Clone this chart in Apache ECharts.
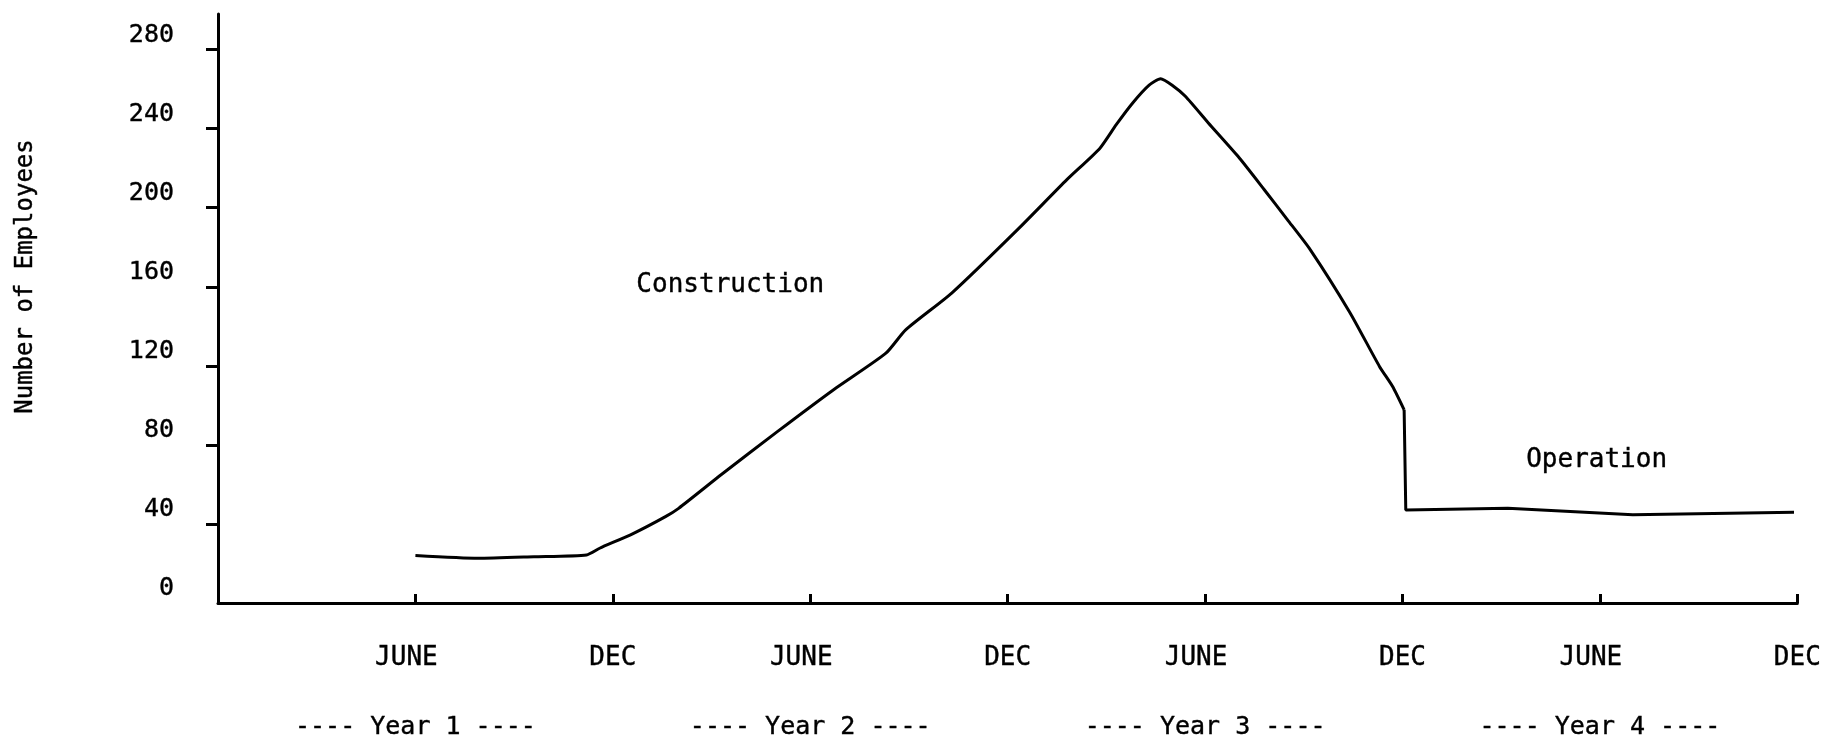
<!DOCTYPE html>
<html>
<head>
<meta charset="utf-8">
<script src="https://cdn.jsdelivr.net/npm/echarts@6/dist/echarts.min.js"></script>
<style>
  html, body { margin: 0; padding: 0; background: #fff; }
  #main { width: 1824px; height: 741px; }
</style>
</head>
<body>
<div id="main"></div>
<script>
// months since start of Year 1, and number of employees
var constructionMonths = [6, 7.9, 9.6, 11.2, 11.6, 12.6, 13.6, 14.0, 15.3, 17.0, 18.7, 20.3, 20.9, 22.3, 24.3, 25.8, 26.8, 27.3, 27.8, 28.3, 28.65, 29.0, 29.4, 30.1, 31.0, 31.8, 32.5, 33.2, 34.4, 35.3, 35.7, 36.05];
var constructionEmployees = [24, 22.6, 23.4, 24.3, 27.7, 35, 43.7, 47.9, 65, 86.7, 107.8, 126.4, 138.2, 156.8, 188.9, 214.2, 230, 242, 253, 262, 265.3, 262, 256.4, 242.9, 226, 209.1, 194, 178.7, 147, 119.7, 109.5, 97.7];
var operationMonths = [36.05, 36.1, 39.2, 43.0, 47.9];
var operationEmployees = [97.7, 47.1, 47.9, 44.6, 45.9];

var monthTicks = [6, 12, 18, 24, 30, 36, 42, 48];
var monthLabels = ['JUNE', 'DEC', 'JUNE', 'DEC', 'JUNE', 'DEC', 'JUNE', 'DEC'];
var yearTicks = [6, 18, 30, 42];
var yearLabels = ['---- Year 1 ----', '---- Year 2 ----', '---- Year 3 ----', '---- Year 4 ----'];
var yLabelValues = [0, 40, 80, 120, 160, 200, 240, 280];
var yTickValues = [40, 80, 120, 160, 200, 240, 280];

var notes = [
  { name: 'Construction', coord: [15.57, 161] },
  { name: 'Operation', coord: [41.9, 72] }
];

var font = 'DejaVu Sans Mono';
var chart = echarts.init(document.getElementById('main'));

function pairs(xs, ys) {
  return xs.map(function (x, i) { return [x, ys[i]]; });
}

// typed text looks a little heavier than the plain font
var ink = { color: '#000', textBorderColor: '#000', textBorderWidth: 0.4 };

var option = {
  animation: false,
  backgroundColor: '#fff',
  grid: { left: 218, right: 25, top: 14, bottom: 138 },
  xAxis: [{
    type: 'value',
    min: 0,
    max: 48,
    splitLine: { show: false },
    axisLine: { lineStyle: { color: '#000', width: 3 } },
    axisTick: { inside: true, length: 9, customValues: monthTicks, lineStyle: { color: '#000', width: 3 } },
    axisLabel: Object.assign({
      customValues: monthTicks,
      margin: 42,
      fontFamily: font,
      fontSize: 26,
      formatter: function (v) {
        var s = monthLabels[monthTicks.indexOf(v)] || '';
        return s === 'JUNE' ? '{j|' + s + '}' : s;
      },
      rich: { j: Object.assign({ fontFamily: font, fontSize: 26, padding: [0, 18, 0, 0] }, ink) }
    }, ink)
  }, {
    type: 'value',
    min: 0,
    max: 48,
    position: 'bottom',
    splitLine: { show: false },
    axisLine: { show: false },
    axisTick: { show: false },
    axisLabel: Object.assign({
      customValues: yearTicks,
      margin: 112,
      fontFamily: font,
      fontSize: 25,
      formatter: function (v) { return yearLabels[yearTicks.indexOf(v)] || ''; }
    }, ink)
  }],
  yAxis: {
    type: 'value',
    min: 0,
    max: 298,
    name: 'Number of Employees',
    nameLocation: 'middle',
    nameGap: 180,
    nameTextStyle: Object.assign({ fontFamily: font, fontSize: 24, padding: [0, 0, 0, 64] }, ink),
    splitLine: { show: false },
    axisLine: { show: true, lineStyle: { color: '#000', width: 3 } },
    axisTick: { show: true, length: 12, customValues: yTickValues, lineStyle: { color: '#000', width: 3 } },
    axisLabel: Object.assign({
      customValues: yLabelValues,
      margin: 44,
      fontFamily: font,
      fontSize: 25,
      verticalAlign: 'bottom',
      lineHeight: 29
    }, ink)
  },
  series: [{
    name: 'Construction',
    type: 'line',
    symbol: 'none',
    smooth: 0.2,
    lineStyle: { color: '#000', width: 3 },
    data: pairs(constructionMonths, constructionEmployees),
    markPoint: {
      symbol: 'circle',
      symbolSize: 0,
      label: Object.assign({
        show: true,
        position: 'inside',
        fontFamily: font,
        fontSize: 26,
        formatter: '{b}'
      }, ink),
      data: notes
    }
  }, {
    name: 'Operation',
    type: 'line',
    symbol: 'none',
    lineStyle: { color: '#000', width: 3 },
    data: pairs(operationMonths, operationEmployees)
  }]
};
chart.setOption(option);
</script>
</body>
</html>
